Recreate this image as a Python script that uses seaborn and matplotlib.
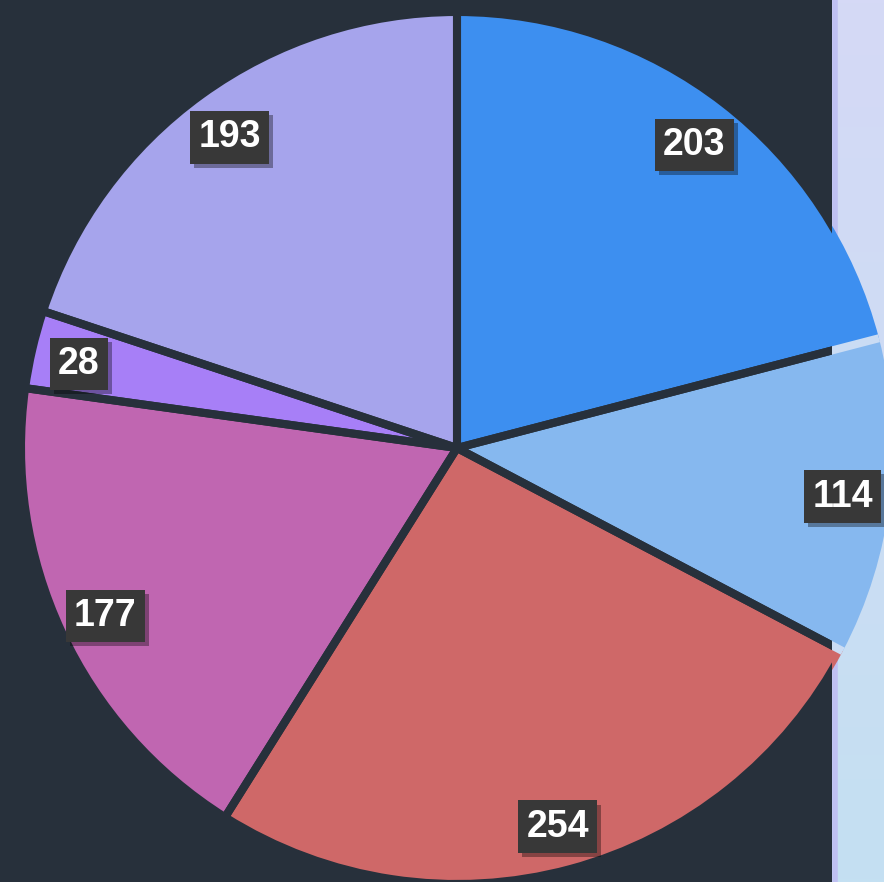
import numpy as np
import matplotlib
matplotlib.use('Agg')
import matplotlib.pyplot as plt
import matplotlib.patheffects as pe
from matplotlib.patches import Rectangle, Wedge
import seaborn as sns

# slices, clockwise from 12 o'clock
values = [203, 114, 254, 177, 28, 193]
slice_colors = ['#3d8ff0', '#86b8ef', '#cf6868', '#c066b1', '#a77ff7', '#a6a4ec']

bg = '#27303b'
strip_top = '#d5d9f6'
strip_bottom = '#c4e0f2'

sns.set_theme(style='dark')
plt.rcParams['font.family'] = ['Liberation Sans', 'DejaVu Sans']

fig = plt.figure(figsize=(8.84, 8.82), dpi=100, facecolor=bg)
ax = fig.add_axes([0, 0, 1, 1])
ax.set_facecolor(bg)

# pie centre sits at (457, 448) px, radius 436 px
xlim = (-457 / 436, (884 - 457) / 436)
ylim = (-(882 - 448) / 436, 448 / 436)
strip_x = (832 - 457) / 436

# light strip on the right
grad = np.linspace(0, 1, 256).reshape(-1, 1)
cmap = matplotlib.colors.LinearSegmentedColormap.from_list('strip', [strip_top, strip_bottom])
ax.imshow(grad, cmap=cmap, aspect='auto', origin='upper',
          extent=(strip_x, xlim[1], ylim[0], ylim[1]), zorder=0)
ax.axvline(strip_x + 0.006, color='#bfc0f2', lw=4, zorder=0.5)

total = sum(values)
wedges, _, autotexts = ax.pie(
    values,
    colors=sns.color_palette(slice_colors),
    startangle=90,
    counterclock=False,
    autopct=lambda p: f'{round(p * total / 100)}',
    pctdistance=0.89,
    wedgeprops=dict(linewidth=0),
    textprops=dict(color='white', fontsize=27, fontweight='bold'),
)

# dark gaps over the dark background, light gaps over the strip
left_clip = Rectangle((xlim[0] - 1, ylim[0] - 1), strip_x - xlim[0] + 1, 4,
                      transform=ax.transData)
for w in wedges:
    w.set_zorder(2)
    edge = Wedge(w.center, w.r, w.theta1, w.theta2, facecolor='none',
                 edgecolor=bg, linewidth=5.8, zorder=2.5)
    ax.add_patch(edge)
    edge.set_clip_path(left_clip)

right_clip = Rectangle((strip_x, ylim[0] - 1), 2, 4, transform=ax.transData)
for w in wedges:
    a = np.deg2rad(w.theta1)
    ln, = ax.plot([0, np.cos(a)], [0, np.sin(a)], color='#cadcf4', lw=5.8,
                  solid_capstyle='butt', zorder=2.6)
    ln.set_clip_path(right_clip)

for t in autotexts:
    t.set_zorder(5)
    t.set_verticalalignment('center_baseline')
    t.set_bbox(dict(boxstyle='square,pad=0.22', facecolor='#383838', edgecolor='none'))
    t.get_bbox_patch().set_path_effects([
        pe.withSimplePatchShadow(offset=(3, -3), shadow_rgbFace='black', alpha=0.35),
        pe.Normal(),
    ])

ax.set_aspect('auto')
ax.set_xlim(*xlim)
ax.set_ylim(*ylim)
ax.axis('off')

fig.savefig('out.png', dpi=100, facecolor=bg)
